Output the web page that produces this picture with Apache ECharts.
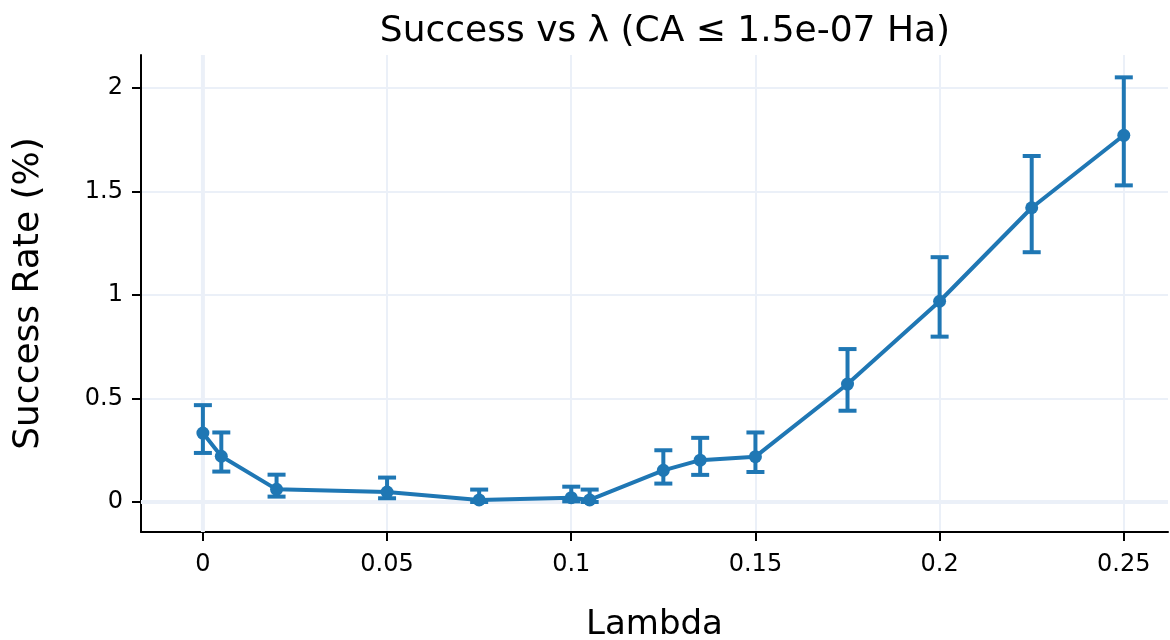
<!DOCTYPE html>
<html>
<head>
<meta charset="utf-8">
<script src="https://cdn.jsdelivr.net/npm/echarts@6/dist/echarts.min.js"></script>
<style>html,body{margin:0;padding:0;background:#fff}#c{width:1170px;height:640px}</style>
</head>
<body>
<div id="c"></div>
<script>
const lambdas = [0, 0.005, 0.02, 0.05, 0.075, 0.1, 0.105, 0.125, 0.135, 0.15, 0.175, 0.2, 0.225, 0.25];
const success = [0.333, 0.221, 0.061, 0.048, 0.010, 0.021, 0.010, 0.153, 0.202, 0.219, 0.570, 0.970, 1.422, 1.772];
const errHigh = [0.468, 0.336, 0.132, 0.118, 0.060, 0.074, 0.060, 0.250, 0.310, 0.336, 0.739, 1.183, 1.672, 2.052];
const errLow  = [0.237, 0.147, 0.026, 0.018, 0.000, 0.003, 0.000, 0.089, 0.131, 0.145, 0.441, 0.799, 1.207, 1.530];
const xTicks = [0, 0.05, 0.1, 0.15, 0.2, 0.25];
const yTicks = [0, 0.5, 1, 1.5, 2];

const color = '#1f77b4';
const gridColor = '#EBF0F8';
const font = 'DejaVu Sans';
const chart = echarts.init(document.getElementById('c'));
chart.setOption({
  animation: false,
  title: {
    text: 'Success vs λ (CA ≤ 1.5e-07 Ha)',
    left: 660, top: 9, textAlign: 'center',
    textStyle: {fontFamily: font, fontSize: 36, fontWeight: 'normal', color: '#000'}
  },
  grid: {left: 141, right: 2, top: 55, bottom: 108, outerBoundsMode: 'none', containLabel: false},
  xAxis: {
    type: 'value', min: -0.0168, max: 0.262,
    name: 'Lambda', nameLocation: 'middle', nameGap: 76,
    nameTextStyle: {fontFamily: font, fontSize: 34, color: '#000'},
    axisLine: {show: true, onZero: false, lineStyle: {color: '#000', width: 2}},
    axisTick: {show: true, length: 9, customValues: xTicks, lineStyle: {color: '#000', width: 2}},
    axisLabel: {customValues: xTicks, fontFamily: font, fontSize: 24, color: '#000', margin: 21,
      formatter: v => String(+v.toFixed(3))},
    splitLine: {show: true, lineStyle: {color: gridColor, width: 2}}
  },
  yAxis: {
    type: 'value', min: -0.145, max: 2.16,
    name: 'Success Rate (%)', nameLocation: 'middle', nameGap: 94,
    nameTextStyle: {fontFamily: font, fontSize: 36, color: '#000'},
    axisLine: {show: true, onZero: false, lineStyle: {color: '#000', width: 2}},
    axisTick: {show: true, length: 9, customValues: yTicks, lineStyle: {color: '#000', width: 2}},
    axisLabel: {customValues: yTicks, fontFamily: font, fontSize: 24, color: '#000', margin: 18,
      formatter: v => String(+v.toFixed(2))},
    splitLine: {show: true, lineStyle: {color: gridColor, width: 2}}
  },
  series: [
    {
      type: 'custom', z: 1, silent: true,
      data: [[0, 0]],
      renderItem: function (params, api) {
        const o = api.coord([0, 0]);
        const cs = params.coordSys;
        const st = {stroke: gridColor, lineWidth: 4, fill: null};
        return {
          type: 'group',
          children: [
            {type: 'line', shape: {x1: cs.x, y1: o[1], x2: cs.x + cs.width, y2: o[1]}, style: st},
            {type: 'line', shape: {x1: o[0], y1: cs.y, x2: o[0], y2: cs.y + cs.height}, style: st}
          ]
        };
      }
    },
    {
      type: 'custom', z: 3, silent: true,
      data: lambdas.map((x, i) => [x, errLow[i], errHigh[i]]),
      renderItem: function (params, api) {
        const x = api.value(0);
        const lo = api.coord([x, api.value(1)]);
        const hi = api.coord([x, api.value(2)]);
        const hw = 9;
        const st = {stroke: color, lineWidth: 4, fill: null};
        return {
          type: 'group',
          children: [
            {type: 'line', shape: {x1: lo[0], y1: lo[1], x2: hi[0], y2: hi[1]}, style: st},
            {type: 'line', shape: {x1: hi[0] - hw, y1: hi[1], x2: hi[0] + hw, y2: hi[1]}, style: st},
            {type: 'line', shape: {x1: lo[0] - hw, y1: lo[1], x2: lo[0] + hw, y2: lo[1]}, style: st}
          ]
        };
      }
    },
    {
      type: 'line', z: 4,
      data: lambdas.map((x, i) => [x, success[i]]),
      symbol: 'circle', symbolSize: 13,
      lineStyle: {color: color, width: 4},
      itemStyle: {color: color}
    }
  ]
});
</script>
</body>
</html>
